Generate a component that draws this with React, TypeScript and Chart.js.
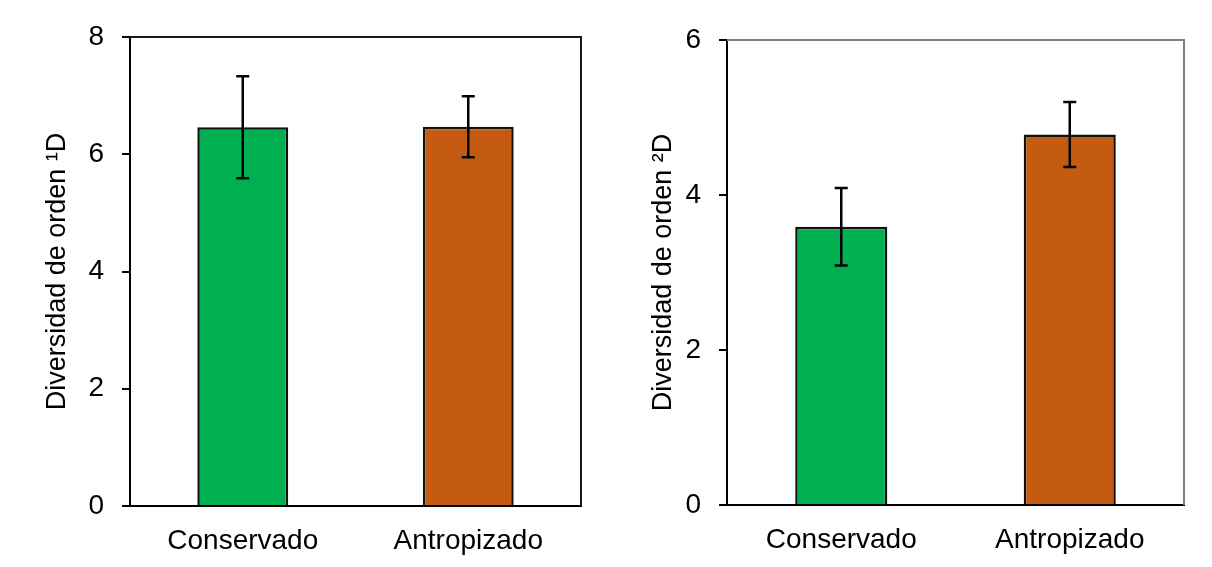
import React, { useEffect, useRef } from "react";
import { Chart, registerables } from "chart.js";

Chart.register(...registerables);

const categories = ["Conservado", "Antropizado"];
const barColors = ["#00B050", "#C55A11"];

const order1Values = [6.46, 6.47];
const order1Errors = [0.87, 0.52];
const order1Ticks = [0, 2, 4, 6, 8];

const order2Values = [3.59, 4.78];
const order2Errors = [0.5, 0.42];
const order2Ticks = [0, 2, 4, 6];

const FONT = "'Liberation Sans', Arial, sans-serif";

type PanelProps = {
  values: number[];
  errors: number[];
  ticks: number[];
  title: string;
  axisWidth: number;
  pad: { top: number; right: number; bottom: number };
  frameColor: string;
};

function Panel({ values, errors, ticks, title, axisWidth, pad, frameColor }: PanelProps) {
  const ref = useRef<HTMLCanvasElement | null>(null);

  useEffect(() => {
    if (!ref.current) return;
    const errorPlugin = {
      id: "errorbars",
      afterDatasetsDraw(chart: any) {
        const ctx = chart.ctx;
        const meta = chart.getDatasetMeta(0);
        const y = chart.scales.y;
        ctx.save();
        ctx.strokeStyle = "#000";
        ctx.lineWidth = 2.5;
        meta.data.forEach((bar: any, i: number) => {
          const x = bar.x;
          const yt = y.getPixelForValue(values[i] + errors[i]);
          const yb = y.getPixelForValue(values[i] - errors[i]);
          ctx.beginPath();
          ctx.moveTo(x, yt);
          ctx.lineTo(x, yb);
          ctx.moveTo(x - 6.5, yt);
          ctx.lineTo(x + 6.5, yt);
          ctx.moveTo(x - 6.5, yb);
          ctx.lineTo(x + 6.5, yb);
          ctx.stroke();
        });
        const a = chart.chartArea;
        ctx.strokeStyle = frameColor;
        ctx.lineWidth = 2;
        ctx.beginPath();
        ctx.moveTo(a.left, a.top);
        ctx.lineTo(a.right, a.top);
        ctx.lineTo(a.right, a.bottom);
        ctx.stroke();
        ctx.restore();
      },
    };

    const chart = new Chart(ref.current, {
      type: "bar",
      data: {
        labels: categories,
        datasets: [
          {
            data: values,
            backgroundColor: barColors,
            borderColor: "#111",
            borderWidth: 2.5,
            barPercentage: 0.403,
            categoryPercentage: 1,
          },
        ],
      },
      options: {
        responsive: false,
        animation: false,
        devicePixelRatio: 1,
        layout: { padding: { left: 0, top: pad.top, right: pad.right, bottom: 0 } },
        plugins: { legend: { display: false }, tooltip: { enabled: false } },
        scales: {
          x: {
            grid: { display: false, drawTicks: false },
            border: { display: true, color: "#000", width: 2 },
            ticks: {
              color: "#000",
              padding: 18,
              font: { family: FONT, size: 28 },
            },
            afterFit: (s: any) => {
              s.height = pad.bottom;
            },
          },
          y: {
            min: 0,
            max: ticks[ticks.length - 1],
            afterBuildTicks: (s: any) => {
              s.ticks = ticks.map((v) => ({ value: v }));
            },
            grid: {
              drawOnChartArea: false,
              drawTicks: true,
              tickLength: 8,
              color: "#000",
              lineWidth: 2,
            },
            border: { display: true, color: "#000", width: 2 },
            ticks: {
              color: "#000",
              padding: 18,
              font: { family: FONT, size: 28 },
            },
            title: {
              display: true,
              text: title,
              color: "#000",
              font: { family: FONT, size: 27 },
              padding: { top: 41, bottom: 0 },
            },
            afterFit: (s: any) => {
              s.width = axisWidth;
            },
          },
        },
      },
      plugins: [errorPlugin],
    });
    return () => chart.destroy();
  }, []);

  return <canvas ref={ref} width={606} height={567} style={{ display: "block", width: 606, height: 567 }} />;
}

export default function App() {
  return (
    <div
      style={{
        position: "fixed",
        left: 0,
        top: 0,
        width: 1212,
        height: 567,
        background: "#fff",
        display: "flex",
      }}
    >
      <Panel
        values={order1Values}
        errors={order1Errors}
        ticks={order1Ticks}
        title={"Diversidad de orden \u00b9D"}
        axisWidth={130}
        pad={{ top: 37, right: 25, bottom: 61 }}
        frameColor="#1a1a1a"
      />
      <Panel
        values={order2Values}
        errors={order2Errors}
        ticks={order2Ticks}
        title={"Diversidad de orden \u00b2D"}
        axisWidth={121}
        pad={{ top: 40, right: 28, bottom: 62 }}
        frameColor="#808080"
      />
    </div>
  );
}
